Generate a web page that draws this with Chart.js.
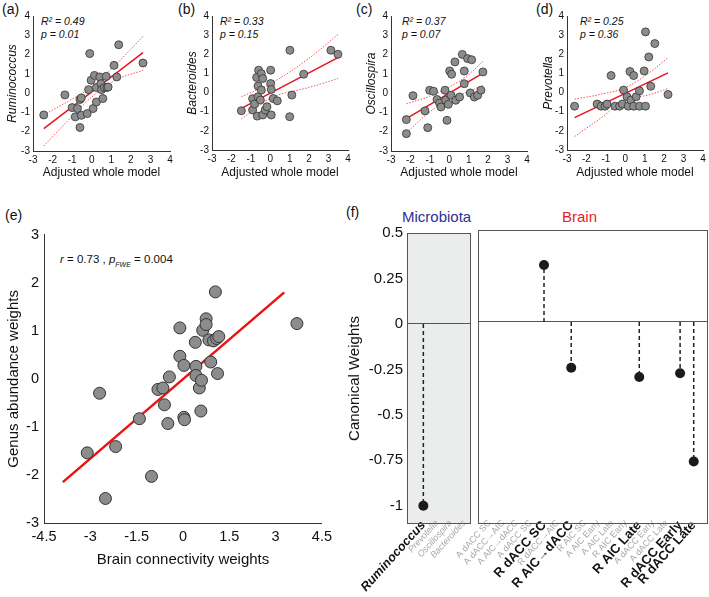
<!DOCTYPE html>
<html lang="en">
<head>
<meta charset="UTF-8">
<title>Genus abundance vs brain connectivity</title>
<script src="https://cdn.jsdelivr.net/npm/chart.js"></script>
<style>
  body { margin: 0; background: #fff; }
  #fig { position: relative; width: 709px; height: 597px; overflow: hidden; background: #fff;
         font-family: 'Liberation Sans', Arial, sans-serif; color: #111; }
  .t { position: absolute; white-space: nowrap; transform: translateY(-50%); line-height: 1; }
  .lbl { font-size: 14px; }
  .stat { font-size: 10.5px; font-style: italic; }
  .box { position: absolute; }
</style>
</head>
<body>
<div id="fig">
  <div class="t lbl" style="left:2px;top:9px">(a)</div>
  <div class="t lbl" style="left:178px;top:9px">(b)</div>
  <div class="t lbl" style="left:356px;top:9px">(c)</div>
  <div class="t lbl" style="left:536px;top:9px">(d)</div>
  <div class="t lbl" style="left:5px;top:215px">(e)</div>
  <div class="t lbl" style="left:346px;top:212px">(f)</div>

  <div class="t stat" style="left:41px;top:21px">R² = 0.49</div>
  <div class="t stat" style="left:41px;top:34px">p = 0.01</div>
  <div class="t stat" style="left:220px;top:21px">R² = 0.33</div>
  <div class="t stat" style="left:220px;top:34px">p = 0.15</div>
  <div class="t stat" style="left:402px;top:21px">R² = 0.37</div>
  <div class="t stat" style="left:402px;top:34px">p = 0.07</div>
  <div class="t stat" style="left:580px;top:21px">R² = 0.25</div>
  <div class="t stat" style="left:580px;top:34px">p = 0.36</div>

  <div class="t" style="left:60px;top:261px;font-size:11.5px"><i>r</i> = 0.73 , <i>p</i><sub style="font-size:7px;font-style:italic">FWE</sub> = 0.004</div>

  <div class="t" style="left:402px;top:216px;font-size:15px;color:#2e3192">Microbiota</div>
  <div class="t" style="left:562px;top:216px;font-size:15px;color:#e31e24">Brain</div>
</div>

<script>
const F = "'Liberation Sans', Arial, sans-serif";

// (a)-(d) shared axis ticks
const tickAD = [-3, -2, -1, 0, 1, 2, 3, 4];

// (a) Ruminococcus
const ruminoX = [-2.45,-1.37,-1.0,-0.84,-0.6,-0.53,-0.73,-0.53,-0.6,-0.23,-0.1,-0.16,-0.03,0.07,0.14,0.24,0.24,0.41,0.47,0.5,0.57,0.64,0.77,0.74,0.84,1.14,1.28,1.38,2.62];
const ruminoY = [-1.13,-0.09,-0.75,-1.23,-0.33,-0.25,-0.8,-1.15,-1.78,-1.06,2.05,0.18,0.67,-0.8,0.92,-0.46,0.29,0.84,0.49,0.18,-0.28,0.29,0.29,0.87,0.32,1.44,0.84,2.51,1.56];
const ruminoFitX = [-2.45, 2.62], ruminoFitY = [-1.84, 2.1];
const ruminoCiX = [-2.45, -1.2, 0, 1.2, 2.62];
const ruminoUpY = [-1.13, -0.42, 0.33, 1.45, 2.94];
const ruminoLoY = [-2.74, -1.41, -0.2, 0.67, 1.18];

// (b) Bacteroides
const bactX = [-1.49,-0.91,-0.91,-0.81,-0.7,-0.6,-0.63,-0.63,-0.67,-0.46,-0.39,-0.46,-0.51,-0.39,-0.26,-0.17,0.02,0.02,0.05,0.05,0.15,0.36,1.01,1.0,1.11,1.72,3.12,3.48];
const bactY = [-0.95,-0.32,-0.91,-0.6,0.79,1.17,0.34,-0.22,-1.23,0.99,0.73,0.13,-0.39,-1.17,-0.91,-0.74,1.17,0.47,0.16,-1.17,-0.31,-0.43,2.21,-1.26,-0.13,0.96,2.21,2.0];
const bactFitX = [-1.49, 3.48], bactFitY = [-0.83, 1.83];
const bactCiX = [-1.49, 0.09, 1.97, 3.48];
const bactUpY = [-0.22, 0.51, 1.77, 3.03];
const bactLoY = [-1.38, -0.26, 0.26, 0.73];

// (c) Oscillospira
const osciX = [-2.21,-2.21,-1.87,-1.25,-1.11,-1.01,-0.81,-0.63,-0.5,-0.43,-0.22,-0.19,-0.12,-0.05,0.02,0.12,0.09,0.29,0.33,0.53,0.67,0.77,0.77,0.94,1.08,1.15,1.29,1.46,1.63,1.73];
const osciY = [-1.37,-2.1,-0.13,-0.92,-1.79,0.15,0.1,-0.33,-0.51,-0.72,0.15,-0.37,-1.41,-0.58,1.15,0.98,-0.11,1.62,-0.37,-0.2,2.01,0.49,1.15,1.79,0.01,1.73,-0.2,-0.11,0.15,1.1];
const osciFitX = [-2.21, 1.73], osciFitY = [-1.32, 1.04];
const osciCiX = [-2.21, -1.11, 0, 0.94, 1.73];
const osciUpY = [-0.55, -0.2, 0.32, 0.92, 1.65];
const osciLoY = [-2.06, -1.06, -0.29, 0.06, 0.41];

// (d) Prevotella
const prevX = [-2.61,-1.45,-1.25,-1.04,-0.94,-0.73,-0.53,-0.29,-0.15,-0.09,0.09,0.15,0.24,0.29,0.43,0.43,0.56,0.73,0.73,0.97,1.04,1.04,1.21,1.31,1.52,2.2];
const prevY = [-0.71,-0.6,-0.71,-0.71,-0.6,0.89,-0.71,-0.71,-0.6,0.13,-0.22,-0.71,1.1,-0.39,0.89,-0.71,-0.22,0.09,-0.71,1.13,-0.71,3.17,1.86,0.33,2.56,-0.1];
const prevFitX = [-2.61, 2.2], prevFitY = [-1.31, 1.03];
const prevCiX = [-2.61, -1.21, 0, 1.18, 2.2];
const prevUpY = [-0.34, -0.08, 0.26, 0.99, 1.83];
const prevLoY = [-2.3, -1.29, -0.36, -0.13, 0.21];

// (e) canonical variates
const brainConnX = [-3.1,-2.7,-2.51,-2.18,-1.41,-1.02,-0.81,-0.65,-0.6,-0.49,-0.44,-0.1,-0.1,0.03,0.03,0.05,0.4,0.42,0.42,0.53,0.58,0.6,0.64,0.75,0.75,0.84,0.9,0.99,1.05,1.09,1.12,1.16,3.69];
const genusAbY = [-1.54,-0.3,-2.49,-1.41,-0.83,-2.03,-0.22,-0.19,-0.54,-0.93,0.04,1.06,0.47,0.28,-0.8,-0.85,0.76,0.26,0.07,-0.19,-0.67,-0.03,1.01,1.25,1.13,0.81,0.35,0.79,1.81,0.84,0.11,0.88,1.15];
const eFitX = [-3.89, 3.28], eFitY = [-2.15, 1.8];
const eTicksX = [-4.5, -3, -1.5, 0, 1.5, 3, 4.5];
const eTicksY = [-3, -2, -1, 0, 1, 2, 3];

// (f) canonical weights
const microbes = ['Ruminococcus', 'Prevotella', 'Oscillospira', 'Bacteroides'];
const microW = [-1.0, null, null, null];
const regions = ['A dACC SC', 'A dACC\u2192AIC', 'A AIC\u2192dACC', 'A dACC SC', 'R dACC SC', 'R dACC\u2192AIC',
  'R AIC\u2192dACC', 'R AIC SC', 'A AIC Early', 'A AIC Late', 'R AIC Early', 'R AIC Late',
  'A dACC Early', 'A dACC Late', 'R dACC Early', 'R dACC Late'];
const brainW = [null, null, null, null, 0.31, null, -0.25, null, null, null, null, -0.30, null, null, -0.28, -0.76];
const fTicks = [-1, -0.75, -0.5, -0.25, 0, 0.25, 0.5];

const fig = document.getElementById('fig');
const zip = (xs, ys) => xs.map((x, i) => ({ x: x, y: ys[i] }));
const fixTicks = vals => s => { s.ticks = vals.map(v => ({ value: v })); };

// put a chart so that its plot area lands on `area` (page px)
function addChart(area, pad, cfg, noLabelClip) {
  const box = document.createElement('div');
  box.className = 'box';
  box.style.left = (area.l - pad.l) + 'px';
  box.style.top = (area.t - pad.t) + 'px';
  box.style.width = (area.w + pad.l + pad.r) + 'px';
  box.style.height = (area.h + pad.t + pad.b) + 'px';
  const cv = document.createElement('canvas');
  box.appendChild(cv);
  fig.appendChild(box);
  const o = cfg.options;
  o.responsive = true;
  o.maintainAspectRatio = false;
  o.animation = false;
  o.events = [];
  o.layout = { autoPadding: false, padding: { top: pad.t, right: pad.r, left: 0, bottom: 0 } };
  o.plugins = Object.assign({ legend: { display: false }, tooltip: { enabled: false } }, o.plugins || {});
  o.scales.x.afterFit = s => {
    s.height = pad.b;
    // rotated labels in (f) tuck up against the frame, so let them draw past the axis box
    if (noLabelClip) s._computeLabelArea = () => undefined;
  };
  o.scales.y.afterFit = s => { s.width = pad.l; };
  return new Chart(cv, cfg);
}

function regressionChart(area, pad, yTitle, xs, ys, fitX, fitY, ciX, upY, loY) {
  const axisBase = {
    type: 'linear', min: -3, max: 4,
    afterBuildTicks: fixTicks(tickAD),
    grid: { display: false, drawTicks: false },
    border: { display: true, color: '#333', width: 1 },
    ticks: { font: { size: 10, family: F }, color: '#111', padding: 3, autoSkip: false, maxRotation: 0 }
  };
  addChart(area, pad, {
    type: 'scatter',
    data: {
      datasets: [
        { data: zip(xs, ys), pointRadius: 4, backgroundColor: '#8c8c8c', borderColor: '#333', borderWidth: 0.8 },
        { data: zip(fitX, fitY), showLine: true, pointRadius: 0, borderColor: '#e8141c', borderWidth: 1.5 },
        { data: zip(ciX, upY), showLine: true, pointRadius: 0, borderColor: '#f0555a', borderWidth: 1,
          borderDash: [1.5, 1.5], cubicInterpolationMode: 'monotone' },
        { data: zip(ciX, loY), showLine: true, pointRadius: 0, borderColor: '#f0555a', borderWidth: 1,
          borderDash: [1.5, 1.5], cubicInterpolationMode: 'monotone' }
      ]
    },
    options: {
      scales: {
        x: Object.assign({}, axisBase, {
          title: { display: true, text: 'Adjusted whole model', font: { size: 12, family: F }, color: '#111', padding: 0 }
        }),
        y: Object.assign({}, axisBase, {
          title: { display: true, text: yTitle, font: { size: 12, family: F, style: 'italic' }, color: '#111', padding: 0 }
        })
      }
    }
  });
}

regressionChart({ l: 33, t: 16, w: 137, h: 135 }, { l: 28, t: 10, r: 6, b: 29 }, 'Ruminococcus',
  ruminoX, ruminoY, ruminoFitX, ruminoFitY, ruminoCiX, ruminoUpY, ruminoLoY);
regressionChart({ l: 212, t: 16, w: 136, h: 134 }, { l: 27, t: 10, r: 6, b: 30 }, 'Bacteroides',
  bactX, bactY, bactFitX, bactFitY, bactCiX, bactUpY, bactLoY);
regressionChart({ l: 391, t: 16, w: 136, h: 135 }, { l: 27, t: 10, r: 6, b: 29 }, 'Oscillospira',
  osciX, osciY, osciFitX, osciFitY, osciCiX, osciUpY, osciLoY);
regressionChart({ l: 567, t: 16, w: 136, h: 134 }, { l: 26, t: 10, r: 6, b: 30 }, 'Prevotella',
  prevX, prevY, prevFitX, prevFitY, prevCiX, prevUpY, prevLoY);

// (e)
addChart({ l: 44, t: 231, w: 279, h: 292 }, { l: 39, t: 10, r: 14, b: 46 }, {
  type: 'scatter',
  data: {
    datasets: [
      { data: zip(brainConnX, genusAbY), pointRadius: 6, backgroundColor: '#8c8c8c', borderColor: '#333', borderWidth: 1 },
      { data: zip(eFitX, eFitY), showLine: true, pointRadius: 0, borderColor: '#ee1111', borderWidth: 2.5 }
    ]
  },
  options: {
    scales: {
      x: {
        type: 'linear', min: -4.5, max: 4.5, afterBuildTicks: fixTicks(eTicksX),
        grid: { display: false, drawTicks: false }, border: { display: true, color: '#333', width: 1 },
        ticks: { font: { size: 14.5, family: F }, color: '#111', padding: 5, autoSkip: false, maxRotation: 0, callback: v => String(v) },
        title: { display: true, text: 'Brain connectivity weights', font: { size: 15, family: F }, color: '#111', padding: 0 }
      },
      y: {
        type: 'linear', min: -3, max: 3, afterBuildTicks: fixTicks(eTicksY),
        grid: { display: false, drawTicks: false }, border: { display: true, color: '#333', width: 1 },
        ticks: { font: { size: 14.5, family: F }, color: '#111', padding: 5, callback: v => String(v) },
        title: { display: true, text: 'Genus abundance weights', font: { size: 15, family: F }, color: '#111', padding: 0 }
      }
    }
  }
});

// (f)
const framePlugin = {
  id: 'frame',
  beforeDraw(chart, args, opts) {
    const a = chart.chartArea, ctx = chart.ctx;
    if (opts.fill) {
      ctx.save();
      ctx.fillStyle = opts.fill;
      ctx.fillRect(a.left, a.top, a.right - a.left, a.bottom - a.top);
      ctx.restore();
    }
  },
  afterDraw(chart) {
    const a = chart.chartArea, ctx = chart.ctx;
    ctx.save();
    ctx.strokeStyle = '#555';
    ctx.lineWidth = 1;
    ctx.strokeRect(Math.round(a.left) + 0.5, Math.round(a.top) + 0.5,
      Math.round(a.right - a.left) - 1, Math.round(a.bottom - a.top) - 1);
    ctx.restore();
  }
};

function stemPoints(vals) {
  const pts = [];
  vals.forEach((v, i) => { if (v !== null) pts.push({ x: i, y: 0 }, { x: i, y: v }, { x: i, y: null }); });
  return pts;
}
function dotPoints(vals) {
  return vals.map((v, i) => ({ x: i, y: v })).filter(p => p.y !== null);
}

function weightChart(area, pad, names, vals, xMin, xMax, italic, showY, fill, boldSize) {
  const style = italic ? 'italic' : 'normal';
  addChart(area, pad, {
    type: 'scatter',
    data: {
      datasets: [
        { data: stemPoints(vals), showLine: true, spanGaps: false, pointRadius: 0,
          borderColor: '#222', borderWidth: 1.5, borderDash: [4, 3] },
        { data: dotPoints(vals), pointRadius: 5, backgroundColor: '#1b1b1b', borderColor: '#1b1b1b', borderWidth: 0 }
      ]
    },
    options: {
      plugins: { frame: { fill: fill } },
      scales: {
        x: {
          type: 'linear', min: xMin, max: xMax,
          afterBuildTicks: fixTicks(names.map((n, i) => i)),
          grid: { display: false, drawTicks: false }, border: { display: false },
          ticks: {
            autoSkip: false, minRotation: 48, maxRotation: 48, padding: -6,
            callback: v => names[v],
            font: c => vals[c.index] !== null
              ? { size: boldSize, weight: 'bold', style: style, family: F }
              : { size: 9, style: style, family: F },
            color: c => vals[c.index] !== null ? '#111' : '#a8a8a8'
          }
        },
        y: {
          type: 'linear', min: -1.1, max: 0.5,
          afterBuildTicks: fixTicks(fTicks),
          grid: { display: true, drawTicks: false, color: c => c.tick && c.tick.value === 0 ? '#555' : 'rgba(0,0,0,0)' },
          border: { display: false },
          ticks: { display: showY, font: { size: 15, family: F }, color: '#111', padding: 4, callback: v => String(v) },
          title: { display: showY, text: 'Canonical Weights', font: { size: 15, family: F }, color: '#111', padding: 0 }
        }
      }
    },
    plugins: [framePlugin]
  }, true);
}

weightChart({ l: 407, t: 230, w: 64, h: 294 }, { l: 61, t: 10, r: 0, b: 73 }, microbes, microW, -1.2, 3.5, true, true, '#ebecec', 12.5);
weightChart({ l: 478, t: 230, w: 230, h: 294 }, { l: 45, t: 10, r: 1, b: 73 }, regions, brainW, -0.85, 16.05, false, false, null, 13);
</script>
</body>
</html>
